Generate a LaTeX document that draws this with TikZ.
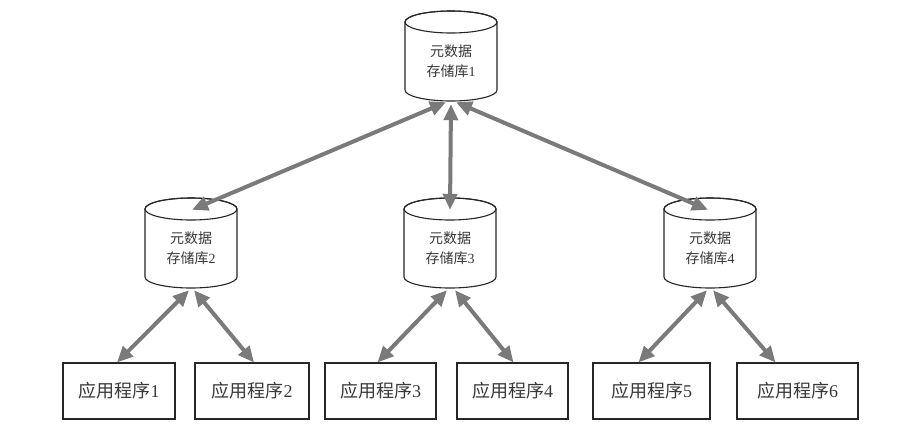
\documentclass[tikz,border=0pt]{standalone}
\usepackage{fontspec}
\setmainfont{Liberation Serif}
\newfontfamily\cjk{Noto Sans CJK SC}
\usetikzlibrary{arrows.meta}
\tikzset{
  cylline/.style={draw=black!85, line width=1.1pt, fill=white},
  cylnode/.style={rectangle, minimum width=92pt, minimum height=80pt, inner sep=0pt, align=center,
    font=\fontsize{14}{20}\selectfont, text=black!78},
  appbox/.style={draw=black!85, line width=1.1pt, minimum width=114pt, minimum height=56pt,
    inner sep=0pt, font=\fontsize{18}{20}\selectfont, text=black!78},
  link/.style={draw=black!52, line width=4pt,
    {Triangle[length=16pt,width=14pt]}-{Triangle[length=16pt,width=14pt]}}
}
\newcommand\mycyl[4]{% name, centre x, top y, number
  \path[cylline] (#2-46,#3+11) -- (#2-46,#3+79)
     arc[start angle=180,end angle=360,x radius=46pt,y radius=11pt]
     -- (#2+46,#3+11)
     arc[start angle=0,end angle=180,x radius=46pt,y radius=11pt] -- cycle;
  \draw[cylline, fill=none] (#2,#3+11) ellipse [x radius=46pt, y radius=11pt];
  \node[cylnode] (#1) at (#2,#3+50) {{\cjk 元数据}\\{\cjk 存储库}#4};
}
\begin{document}
\begin{tikzpicture}[x=1pt,y=-1pt]
  \useasboundingbox[fill=white] (0,0) rectangle (903,429);
  \mycyl{c1}{451}{11}{1}
  \mycyl{c2}{191}{198}{2}
  \mycyl{c3}{450}{198}{3}
  \mycyl{c4}{710}{198}{4}
  \node[appbox, minimum width=112pt] (b1) at (119,391) {{\cjk 应用程序}1};
  \node[appbox] (b2) at (252,391) {{\cjk 应用程序}2};
  \node[appbox, minimum width=111pt] (b3) at (380.5,391) {{\cjk 应用程序}3};
  \node[appbox, minimum width=111pt] (b4) at (512.5,391) {{\cjk 应用程序}4};
  \node[appbox, minimum width=117pt] (b5) at (651.5,391) {{\cjk 应用程序}5};
  \node[appbox, minimum width=121pt] (b6) at (797.5,391) {{\cjk 应用程序}6};
  \draw[link] ([xshift=-5pt,yshift=-1pt]c1.south) -- ([xshift=1pt,yshift=-2pt]c2.north);
  \draw[link] ([yshift=-3pt]c1.south) -- ([yshift=-2pt]c3.north);
  \draw[link] ([xshift=5pt,yshift=-1pt]c1.south) -- ([xshift=-2pt,yshift=-2pt]c4.north);
  \draw[link] ([xshift=-2pt,yshift=-2pt]c2.south) -- ([xshift=-2pt]b1.north);
  \draw[link] ([xshift=3pt,yshift=-2pt]c2.south) -- ([xshift=2pt]b2.north);
  \draw[link] ([xshift=-3pt,yshift=-2pt]c3.south) -- ([xshift=-3pt]b3.north);
  \draw[link] ([xshift=5pt,yshift=-2pt]c3.south) -- ([xshift=1pt]b4.north);
  \draw[link] ([xshift=-3pt,yshift=-2pt]c4.south) -- ([xshift=-13pt]b5.north);
  \draw[link] ([xshift=3pt,yshift=-2pt]c4.south) -- ([xshift=-22pt]b6.north);
\end{tikzpicture}
\end{document}
